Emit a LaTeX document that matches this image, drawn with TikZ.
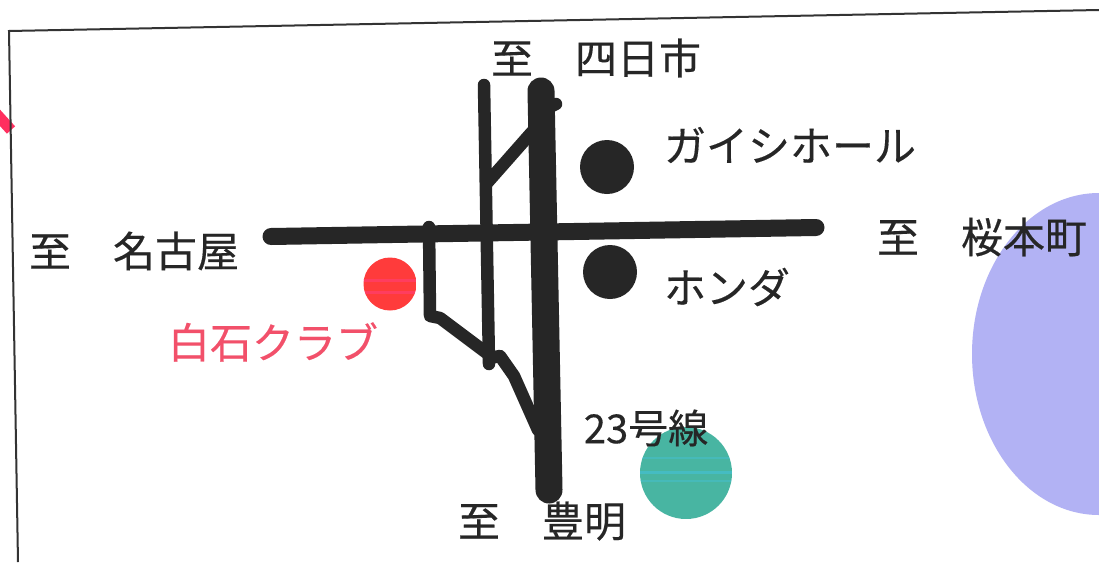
\documentclass[tikz,border=0pt]{standalone}
\usepackage{fontspec}
\setmainfont{Noto Sans CJK JP}[FakeBold=0.35]
\definecolor{road}{HTML}{262626}
\definecolor{frameink}{HTML}{333333}
\definecolor{clubred}{HTML}{FF3B3B}
\definecolor{clubstripe}{HTML}{FF3F78}
\definecolor{clubtext}{HTML}{F2506A}
\definecolor{slip}{HTML}{FF2F5F}
\definecolor{lilac}{HTML}{B2B2F4}
\definecolor{teal}{HTML}{48B5A2}
\definecolor{tealstripe}{HTML}{45C0D0}
\tikzset{
  label/.style={inner sep=0pt,anchor=center,text=black!85,font=\fontsize{42}{46}\selectfont},
  redlabel/.style={label,text=clubtext},
  small/.style={label,font=\fontsize{40}{44}\selectfont},
  thick road/.style={draw=road,line width=27pt,line cap=round},
  main road/.style={draw=road,line width=17pt,line cap=round},
  side road/.style={draw=road,line width=12.5pt,line cap=round,line join=round},
  dot/.style={fill=road},
}
\begin{document}
\begin{tikzpicture}[x=1pt,y=-1pt]
\useasboundingbox (0,0) rectangle (1099,562);
\fill[white] (0,0) rectangle (1099,562);
% background discs
\fill[lilac] (1099,193) arc[start angle=90,end angle=270,x radius=127pt,y radius=161pt] -- cycle;
\begin{scope}
\clip (686,473) circle[radius=46pt];
\fill[teal] (640,427) rectangle (732,519);
\draw[tealstripe,opacity=.5,line width=2pt] (640,458) -- (732,458);
\draw[tealstripe,opacity=.7,line width=3pt] (640,472) -- (732,472);
\draw[tealstripe,opacity=.5,line width=2pt] (640,481) -- (732,481);
\end{scope}
% frame
\draw[slip,line width=11pt] (-8,109) -- (11,130);
\draw[frameink,line width=2pt] (1099,10) -- (9,31) -- (18,562);
% roads
\path[main road] (271,236.5) -- (816,227.5);
\path[thick road] (541,91) -- (549,490);
\path[side road] (484,85) -- (489,364);
\path[side road] (487,183) -- (532,132);
\path[side road] (540,112) -- (556,104);
\path[side road] (429,227) -- (430,316) -- (440,318) -- (488,354);
\path[side road] (490,358) -- (500,356) -- (514,376) -- (538,430);
% points
\fill[dot] (607,167) circle[radius=27pt];
\fill[dot] (610,272) circle[radius=27pt];
\begin{scope}
\clip (390,284) circle[radius=26.5pt];
\fill[clubred] (363,257) rectangle (417,311);
\draw[clubstripe,opacity=.6,line width=3pt] (363,280) -- (417,280);
\draw[clubstripe,opacity=.6,line width=3pt] (363,292) -- (417,292);
\end{scope}
% texts
\node[label] (a) at (596,58) {至　四日市};
\node[label] (b) at (790,145) {ガイシホール};
\node[label] (c) at (134,251) {至　名古屋};
\node[label] (d) at (982,237) {至　桜本町};
\node[label] (e) at (727,287) {ホンダ};
\node[redlabel] (f) at (273,342) {白石クラブ};
\node[small] (g) at (646,428) {23号線};
\node[label] (h) at (542,521) {至　豊明};
\end{tikzpicture}
\end{document}
